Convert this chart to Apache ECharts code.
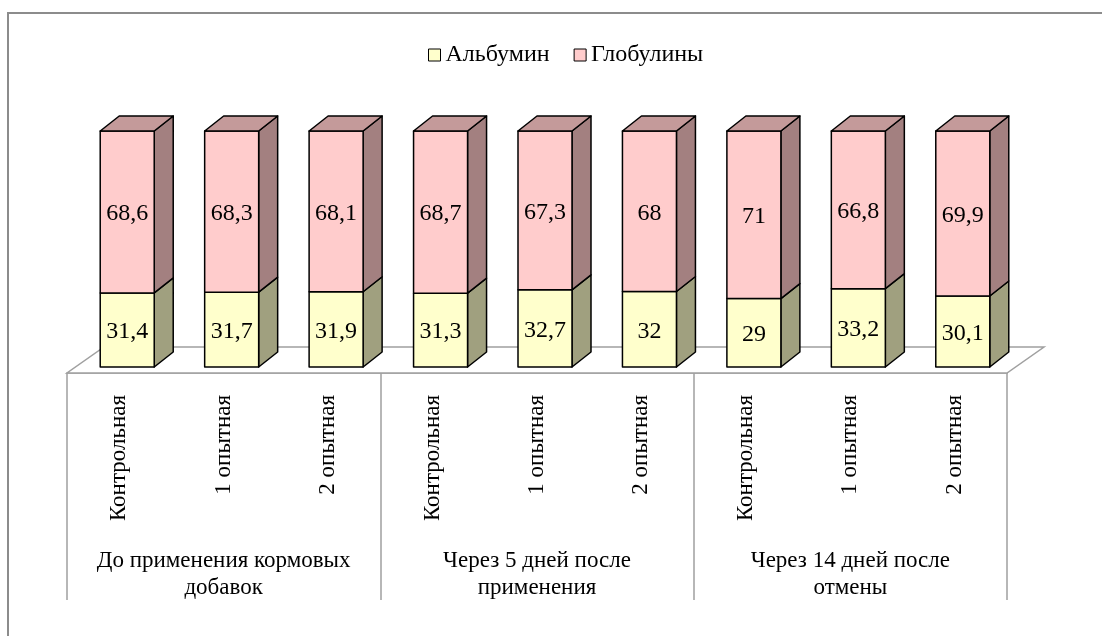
<!DOCTYPE html>
<html>
<head>
<meta charset="utf-8">
<script src="https://cdn.jsdelivr.net/npm/echarts@6/dist/echarts.min.js"></script>
<style>
html,body{margin:0;padding:0;background:#fff;}
#chart{width:1102px;height:636px;}
</style>
</head>
<body>
<div id="chart"></div>
<script>
const subCategories = ['Контрольная','1 опытная','2 опытная','Контрольная','1 опытная','2 опытная','Контрольная','1 опытная','2 опытная'];
const groups = ['До применения кормовых\nдобавок','Через 5 дней после\nприменения','Через 14 дней после\nотмены'];
const albumin = [31.4, 31.7, 31.9, 31.3, 32.7, 32, 29, 33.2, 30.1];
const globulin = [68.6, 68.3, 68.1, 68.7, 67.3, 68, 71, 66.8, 69.9];
const seriesNames = ['Альбумин','Глобулины'];

const FONT = '"Liberation Serif", "Times New Roman", serif';
const FS = 23;
const DX = 19, DY = -15;         // bar depth
const FDX = 37, FDY = -26;        // floor depth
const SHIFT = 8;
const BARW = 54;
const GRAY = '#a0a0a0';

function fmt(v){ return String(v).replace('.', ','); }

function barSegment(api, i, v0, v1, colors, withTop, label){
  const p0 = api.coord([i, v0]);
  const p1 = api.coord([i, v1]);
  const xl = p0[0] + SHIFT - BARW/2, xr = xl + BARW;
  const yb = p0[1], yt = p1[1];
  const line = {stroke:'#000', lineWidth:1.5, lineJoin:'round'};
  const children = [
    {type:'polygon', shape:{points:[[xr,yb],[xr,yt],[xr+DX,yt+DY],[xr+DX,yb+DY]]}, style:Object.assign({fill:colors.side}, line)},
    {type:'rect', shape:{x:xl, y:yt, width:BARW, height:yb-yt}, style:Object.assign({fill:colors.front}, line),
     textContent:{type:'text', style:{text:label, fontSize:24, fontFamily:'Liberation Serif', fill:'#000'}},
     textConfig:{position:'inside', offset:[0,2]}}
  ];
  if (withTop) {
    children.push({type:'polygon', shape:{points:[[xl,yt],[xr,yt],[xr+DX,yt+DY],[xl+DX,yt+DY]]}, style:Object.assign({fill:colors.top}, line)});
  }
  return {type:'group', children:children};
}

const chart = echarts.init(document.getElementById('chart'));
chart.setOption({
  animation:false,
  backgroundColor:'#fff',
  textStyle:{fontFamily:FONT},
  graphic:[{type:'rect', shape:{x:8, y:13, width:1200, height:800}, style:{fill:'none', stroke:'#8c8c8c', lineWidth:2}, z:0}],
  legend:{
    data:seriesNames, left:423, top:38, itemWidth:12, itemHeight:12, itemGap:24,
    icon:'rect',
    itemStyle:{borderColor:'#000', borderWidth:1},
    textStyle:{fontSize:24, fontFamily:FONT, color:'#000'}
  },
  grid:{left:67, right:95, top:131, bottom:269},
  xAxis:[
    {type:'category', data:subCategories, position:'bottom', offset:6,
     axisLine:{show:false}, axisTick:{show:false},
     axisLabel:{interval:0, rotate:90, margin:22, fontSize:FS, fontFamily:FONT, color:'#000'}},
    {type:'category', data:groups, position:'bottom', offset:6,
     axisLine:{show:true, lineStyle:{color:GRAY, width:1.5}},
     axisTick:{show:true, length:227, lineStyle:{color:GRAY, width:1.5}},
     axisLabel:{interval:0, margin:174, lineHeight:27, fontSize:FS, fontFamily:FONT, color:'#000', align:'center'}}
  ],
  yAxis:{type:'value', min:0, max:100, show:false},
  series:[
    {
      type:'custom', name:'floor', z:1, silent:true,
      data:[[0]],
      renderItem:function(params, api){
        const n = subCategories.length;
        const bw = api.size([1,0])[0];
        const first = api.coord([0, 0]);
        const last = api.coord([n-1, 0]);
        const xl = first[0] - bw/2, xr = last[0] + bw/2;
        const y = first[1] + 6;
        return {type:'polygon', shape:{points:[[xl,y],[xr,y],[xr+FDX,y+FDY],[xl+FDX,y+FDY]]},
                style:{fill:'#fff', stroke:GRAY, lineWidth:1.5}};
      }
    },
    {
      type:'custom', name:seriesNames[0], z:3,
      itemStyle:{color:'#FFFFCC', borderColor:'#000', borderWidth:1},
      data:albumin.map((v,i)=>[i, v]),
      renderItem:function(params, api){
        const i = api.value(0);
        return barSegment(api, i, 0, api.value(1), {front:'#FFFFCC', side:'#A0A07F'}, false, fmt(albumin[i]));
      }
    },
    {
      type:'custom', name:seriesNames[1], z:3,
      itemStyle:{color:'#FFCCCC', borderColor:'#000', borderWidth:1},
      data:globulin.map((v,i)=>[i, albumin[i], v]),
      renderItem:function(params, api){
        const i = api.value(0);
        const a = api.value(1);
        return barSegment(api, i, a, a + api.value(2), {front:'#FFCCCC', side:'#A38080', top:'#C49A9A'}, true, fmt(globulin[i]));
      }
    }
  ]
});
</script>
</body>
</html>
